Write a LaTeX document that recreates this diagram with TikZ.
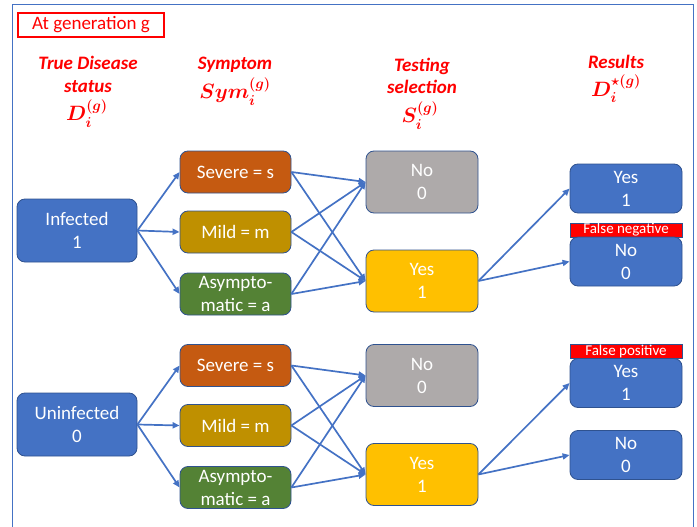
\documentclass[tikz,border=0pt]{standalone}
\usepackage{amsmath, bm}
\usepackage{fontspec}
\setmainfont{Carlito}
\usetikzlibrary{arrows.meta}

\definecolor{boxblue}{HTML}{4472C4}
\definecolor{rimblue}{HTML}{2F528F}
\definecolor{sevcol}{HTML}{C55A11}
\definecolor{mildcol}{HTML}{BF9000}
\definecolor{asycol}{HTML}{548235}
\definecolor{nocol}{HTML}{AEAAAA}
\definecolor{yescol}{HTML}{FFC000}

\tikzset{
  box/.style={draw=rimblue, line width=0.8pt, rounded corners=8pt, text=white,
    align=center, inner sep=0pt, font=\fontsize{19}{23}\selectfont},
  status/.style={box, fill=boxblue, minimum width=120pt, minimum height=63pt},
  symbox/.style={box, minimum width=111pt, minimum height=42pt},
  testbox/.style={box, minimum width=112pt, minimum height=62pt},
  resbox/.style={box, fill=boxblue, minimum width=112pt, minimum height=49pt},
  flag/.style={draw=rimblue, line width=0.6pt, fill=red, text=white, inner sep=0pt,
    minimum width=112pt, minimum height=14pt, font=\fontsize{15}{15}\selectfont},
  head/.style={text=red, anchor=base, inner sep=0pt, font=\fontsize{19}{23}\selectfont\bfseries\itshape},
  headm/.style={text=red, anchor=base, inner sep=0pt, font=\fontsize{22}{26}\selectfont},
  link/.style={boxblue, line width=1.7pt, -{Triangle[length=7pt,width=6pt]}}
}

\begin{document}
\begin{tikzpicture}[x=1pt, y=-1pt]
\useasboundingbox (0,0) rectangle (697,527);
\draw [boxblue, line width=1pt] (12,527) -- (12,5) -- (693,5) -- (693,527);
\node [draw=red, line width=1.2pt, text=red, inner sep=0pt, minimum width=146pt,
       minimum height=24pt, font=\fontsize{19}{23}\selectfont] (gen) at (91,25) {At generation g};

% column headings
\node [head] (h1a) at (88,70) {True Disease};
\node [head] (h1b) at (88,93) {status};
\node [headm] (h1c) at (87,121) {$\bm{D_i^{(g)}}$};
\node [head] (h2a) at (235,70) {Symptom};
\node [headm] (h2b) at (235,99) {$\bm{Sym_i^{(g)}}$};
\node [head] (h3a) at (422,72) {Testing};
\node [head] (h3b) at (422,94) {selection};
\node [headm] (h3c) at (420,123) {$\bm{S_i^{(g)}}$};
\node [head] (h4a) at (616,69) {Results};
\node [headm] (h4b) at (616,96) {$\bm{D_i^{\star(g)}}$};

% infected
\node [status] (inf) at (77,230.5) {Infected\\1};
\node [symbox, fill=sevcol] (sev1) at (235.5,172) {Severe = s};
\node [symbox, fill=mildcol] (mild1) at (235.5,232) {Mild = m};
\node [symbox, fill=asycol] (asy1) at (235.5,294) {Asympto-\\matic = a};
\node [testbox, fill=nocol] (no1) at (422,182) {No\\0};
\node [testbox, fill=yescol] (yes1) at (422,281) {Yes\\1};
\node [resbox] (ry1) at (626,188.5) {Yes\\1};
\node [flag] (fneg) at (626,230) {False negative};
\node [resbox] (rn1) at (626,261.5) {No\\0};

% uninfected
\node [status] (uninf) at (77,424.5) {Uninfected\\0};
\node [symbox, fill=sevcol] (sev2) at (235.5,365.5) {Severe = s};
\node [symbox, fill=mildcol] (mild2) at (235.5,425.5) {Mild = m};
\node [symbox, fill=asycol] (asy2) at (235.5,487.5) {Asympto-\\matic = a};
\node [testbox, fill=nocol] (no2) at (422,375.5) {No\\0};
\node [testbox, fill=yescol] (yes2) at (422,474.5) {Yes\\1};
\node [flag] (fpos) at (626,351) {False positive};
\node [resbox] (ry2) at (626,383) {Yes\\1};
\node [resbox] (rn2) at (626,455) {No\\0};

\draw [link] (inf.east) -- (sev1.west);
\draw [link] (inf.east) -- (mild1.west);
\draw [link] (inf.east) -- (asy1.west);
\draw [link] (sev1.east) -- (no1.west);
\draw [link] (sev1.east) -- (yes1.west);
\draw [link] (mild1.east) -- (no1.west);
\draw [link] (mild1.east) -- (yes1.west);
\draw [link] (asy1.east) -- (no1.west);
\draw [link] (asy1.east) -- (yes1.west);
\draw [link] (yes1.east) -- (ry1.west);
\draw [link] (yes1.east) -- (rn1.west);

\draw [link] (uninf.east) -- (sev2.west);
\draw [link] (uninf.east) -- (mild2.west);
\draw [link] (uninf.east) -- (asy2.west);
\draw [link] (sev2.east) -- (no2.west);
\draw [link] (sev2.east) -- (yes2.west);
\draw [link] (mild2.east) -- (no2.west);
\draw [link] (mild2.east) -- (yes2.west);
\draw [link] (asy2.east) -- (no2.west);
\draw [link] (asy2.east) -- (yes2.west);
\draw [link] (yes2.east) -- (ry2.west);
\draw [link] (yes2.east) -- (rn2.west);
\end{tikzpicture}
\end{document}
